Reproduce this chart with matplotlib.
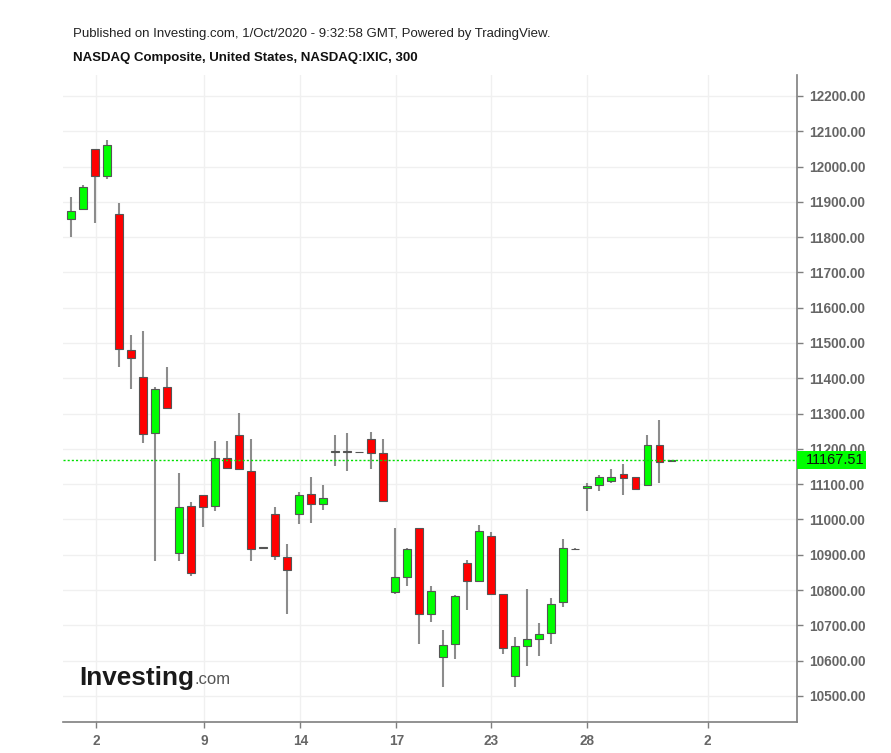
import matplotlib
matplotlib.use("Agg")
import matplotlib.pyplot as plt
import matplotlib.transforms as mtransforms
from matplotlib.patches import Rectangle
import numpy as np

# 5-hour candles, NASDAQ Composite, September 2020
opens = [11851, 11879, 12049, 11973, 11865, 11480, 11403, 11244, 11374, 10906,
         11039, 11068, 11038, 11175, 11239, 11138, 10920, 11015, 10893, 11014,
         11071, 11045, 11192, 11194, 11190, 11227, 11189, 10795, 10838, 10975,
         10731, 10611, 10646, 10876, 10825, 10954, 10789, 10555, 10640, 10661,
         10679, 10767, 10915, 11088, 11098, 11109, 11129, 11121, 11098, 11210,
         11166]
closes = [11875, 11941, 11973, 12060, 11482, 11458, 11241, 11371, 11317, 11036,
          10848, 11035, 11173, 11145, 11142, 10917, 10922, 10897, 10857, 11068,
          11045, 11061, 11194, 11192, 11191, 11188, 11053, 10836, 10916, 10731,
          10798, 10645, 10783, 10825, 10967, 10789, 10637, 10642, 10662, 10676,
          10761, 10918, 10917, 11095, 11120, 11120, 11116, 11087, 11210, 11163,
          11167.51]
highs = [11915, 11948, 12050, 12075, 11898, 11523, 11534, 11374, 11431, 11133,
         11050, 11068, 11222, 11222, 11303, 11228, 10923, 11036, 10930, 11079,
         11121, 11097, 11240, 11246, 11192, 11249, 11227, 10975, 10919, 10977,
         10812, 10687, 10786, 10885, 10985, 10964, 10790, 10666, 10802, 10706,
         10777, 10944, 10918, 11103, 11126, 11142, 11157, 11121, 11240, 11282,
         11168]
lows = [11800, 11876, 11841, 11966, 11433, 11369, 11216, 10881, 11315, 10881,
        10841, 10978, 11025, 11142, 11140, 10881, 10919, 10885, 10731, 10987,
        10991, 11027, 11152, 11136, 11190, 11142, 11050, 10789, 10812, 10646,
        10710, 10525, 10604, 10742, 10823, 10787, 10618, 10525, 10586, 10613,
        10647, 10753, 10915, 11024, 11081, 11103, 11070, 11082, 11098, 11104,
        11166]
last_price = 11167.51

tick_pos = [2.1, 11.1, 19.1, 27.1, 35.0, 43.0, 53.0]
tick_labels = ["2", "9", "14", "17", "23", "28", "2"]
price_ticks = np.arange(10500, 12201, 100)

font = "Liberation Sans"

fig = plt.figure(figsize=(8.91, 7.53), dpi=100)
ax = fig.add_axes([0.0707, 0.0412, 0.8238, 0.8592])

x = np.arange(len(opens))
o = np.array(opens)
c = np.array(closes)
up = c >= o
colors = np.where(up, "#00ff00", "#ff0000")

ax.vlines(x, lows, highs, color="#8c8c8c", lw=1.5, zorder=2)
ax.bar(x, np.abs(c - o), bottom=np.minimum(o, c), width=0.66,
       color=colors, edgecolor="#555555", linewidth=0.8, zorder=3)

ax.axhline(last_price, color="#00e000", lw=1, ls=(0, (1.5, 1.5)), zorder=4)

ax.set_xlim(-0.67, 60.45)
ax.set_ylim(10426, 12259.5)

ax.set_xticks(tick_pos)
ax.set_xticklabels(tick_labels)
ax.set_yticks(price_ticks)
ax.set_yticklabels(["%.2f" % v for v in price_ticks])

ax.yaxis.tick_right()
ax.grid(True, color="#f0f0f0", lw=1, zorder=0)
ax.set_axisbelow(True)

for side in ["top", "left"]:
    ax.spines[side].set_visible(False)
for side in ["bottom", "right"]:
    ax.spines[side].set_color("#7f7f7f")
    ax.spines[side].set_linewidth(1.2)

ax.tick_params(axis="both", colors="#7f7f7f", length=4, width=1,
               labelcolor="#666666", labelsize=9.8)
ax.tick_params(axis="y", pad=5)
ax.tick_params(axis="x", pad=5)
for lab in ax.get_xticklabels() + ax.get_yticklabels():
    lab.set_family(font)
    lab.set_weight("bold")

# last-price tag on the price scale
trans = mtransforms.blended_transform_factory(ax.transAxes, ax.transData)
ax.add_patch(Rectangle((1.0, last_price - 26), 0.094, 52, transform=trans,
                       facecolor="#00ff00", edgecolor="none", clip_on=False, zorder=9))
ax.text(1.012, last_price, "11167.51", transform=trans, ha="left", va="center",
        fontsize=10.5, color="#111111", family=font, clip_on=False, zorder=10)

fig.text(0.082, 0.955, "Published on Investing.com, 1/Oct/2020 - 9:32:58 GMT, Powered by TradingView.",
         fontsize=9.5, color="#222222", family=font, va="center")
fig.text(0.082, 0.923, "NASDAQ Composite, United States, NASDAQ:IXIC, 300",
         fontsize=9.5, color="#111111", family=font, weight="bold", va="center")

fig.text(0.089, 0.100, "Investing", fontsize=18.8, weight="bold", color="#1a1a1a",
         family=font, va="center")
fig.text(0.2185, 0.097, ".com", fontsize=12, color="#555555",
         family=font, va="center")

fig.savefig("out.png", dpi=100)
